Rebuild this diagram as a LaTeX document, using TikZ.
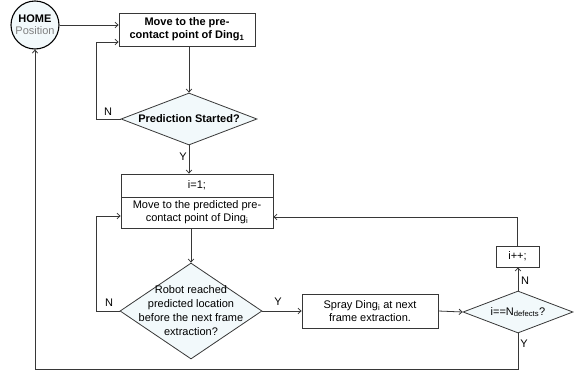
\documentclass[tikz,border=0pt]{standalone}
\usepackage{fontspec}
\setmainfont{Liberation Sans}
\usetikzlibrary{shapes.geometric,arrows.meta}
\definecolor{lnc}{RGB}{55,55,55}
\definecolor{dfill}{RGB}{242,249,251}
\begin{document}
\begin{tikzpicture}[x=1pt,y=-1pt,
  every node/.style={font=\fontsize{11}{13}\selectfont},
  box/.style={draw=lnc,line width=0.8pt,rectangle,inner sep=0pt,align=center,fill=white},
  dia/.style={draw=lnc,line width=0.8pt,diamond,inner sep=0pt,aspect=1,fill=dfill},
  txt/.style={align=center,inner sep=0pt},
  lbl/.style={inner sep=0pt,font=\fontsize{11}{12}\selectfont},
  conn/.style={draw=lnc,line width=0.8pt},
  arr/.style={conn,-{Straight Barb[length=3pt,width=5.5pt]}}]
\useasboundingbox (0,0) rectangle (574,370);
% nodes
\node[circle,draw=black,line width=1.1pt,fill=dfill,minimum size=48pt,inner sep=0pt,align=center,
  font=\fontsize{11}{12}\selectfont] (home) at (35,25)
  {\textbf{HOME}\\\textcolor{gray}{Position}};
\node[box,minimum width=136pt,minimum height=33pt,font=\bfseries\fontsize{11}{13}\selectfont] (b1) at (187,29.5)
  {Move to the pre-\\contact point of Ding\textsubscript{1}};
\node[dia,minimum width=136pt,minimum height=52pt] (d1) at (189,119) {};
\node[txt,font=\bfseries\fontsize{11}{13}\selectfont] (d1t) at (189,119) {Prediction Started?};
\node[box,minimum width=152pt,minimum height=23pt] (b2a) at (197,185.5) {i=1;};
\node[box,minimum width=152pt,minimum height=31pt] (b2b) at (197,212.5)
  {Move to the predicted pre-\\contact point of Ding\textsubscript{i}};
\node[dia,minimum width=142pt,minimum height=96pt] (d2) at (191,311) {};
\node[txt,font=\fontsize{11}{14}\selectfont] (d2t) at (191,311)
  {Robot reached\\predicted location\\before the next frame\\extraction?};
\node[box,minimum width=136pt,minimum height=34pt] (sp) at (370,311)
  {Spray Ding\textsubscript{i} at next\\frame extraction.};
\node[dia,minimum width=110pt,minimum height=42pt] (d3) at (518,312) {};
\node[txt] (d3t) at (518,312) {i==N\textsubscript{defects}?};
\node[box,minimum width=43pt,minimum height=21pt] (inc) at (517.5,256.5) {i++;};
% labels
\node[lbl] (ln1) at (108,112) {N};
\node[lbl] (ly1) at (183,157) {Y};
\node[lbl] (ln2) at (109,303) {N};
\node[lbl] (ly2) at (278,302) {Y};
\node[lbl] (ln3) at (525,281) {N};
\node[lbl] (ly3) at (524,344) {Y};
% helper coordinates
\coordinate (n1) at (96,42);
\coordinate (n2) at (96,216);
\coordinate (r1) at (517,217);
\coordinate (bl) at (35,369);
% connectors
\draw[arr] (home.east) -- (home.east -| b1.west);
\draw[arr] (b1.south -| d1.north) -- (d1.north);
\draw[arr] (d1.west) -| (n1) -- (n1 -| b1.west);
\draw[arr] (d1.south) -- (d1.south |- b2a.north);
\draw[arr] (d2.north |- b2b.south) -- (d2.north);
\draw[arr] (d2.west) -| (n2) -- (n2 -| b2b.west);
\draw[arr] (d2.east) -- (sp.west);
\draw[arr] (sp.east) -- (d3.west);
\draw[arr] (d3.north) -- (d3.north |- inc.south);
\draw[arr] (inc.north -| r1) -- (r1) -- (r1 -| b2b.east);
\draw[arr] (d3.south) |- (bl) -- (home.south);
\end{tikzpicture}
\end{document}
